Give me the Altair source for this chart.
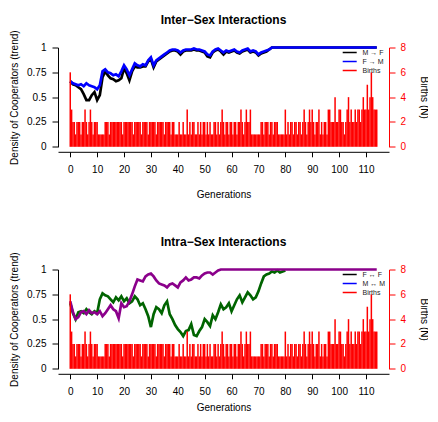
import altair as alt
import pandas as pd

FONT = "Liberation Sans"

# ---------------- data ----------------
gens_inter = list(range(0, 76)) + [114]
m_to_f = [0.66, 0.63, 0.62, 0.60, 0.58, 0.53, 0.47, 0.47, 0.52, 0.55,
          0.47, 0.52, 0.70, 0.76, 0.72, 0.69, 0.68, 0.66, 0.67, 0.69,
          0.79, 0.74, 0.67, 0.76, 0.81, 0.80, 0.80, 0.81, 0.81, 0.86,
          0.88, 0.80, 0.86, 0.88, 0.90, 0.92, 0.94, 0.96, 0.97, 0.97,
          0.96, 0.93, 0.96, 0.97, 0.97, 0.97, 0.98, 0.97, 0.97, 0.96,
          0.95, 0.91, 0.90, 0.95, 0.97, 0.98, 0.96, 0.93, 0.96, 0.95,
          0.96, 0.97, 0.95, 0.94, 0.96, 0.97, 0.98, 0.95, 0.96, 0.95,
          0.92, 0.94, 0.95, 0.96, 0.98, 1.00, 1.00]
f_to_m = [0.66, 0.64, 0.63, 0.62, 0.63, 0.61, 0.64, 0.62, 0.61, 0.60,
          0.58, 0.62, 0.76, 0.78, 0.75, 0.74, 0.72, 0.73, 0.71, 0.76,
          0.82, 0.78, 0.72, 0.78, 0.84, 0.82, 0.81, 0.83, 0.82, 0.87,
          0.90, 0.82, 0.87, 0.89, 0.91, 0.93, 0.95, 0.97, 0.98, 0.98,
          0.97, 0.95, 0.97, 0.98, 0.98, 0.98, 0.99, 0.98, 0.98, 0.97,
          0.96, 0.93, 0.92, 0.96, 0.98, 0.99, 0.97, 0.95, 0.97, 0.96,
          0.97, 0.98, 0.96, 0.95, 0.97, 0.98, 0.99, 0.96, 0.97, 0.96,
          0.93, 0.95, 0.96, 0.97, 0.98, 1.00, 1.00]

gens_ff = list(range(0, 81))
f_ff = [0.66, 0.56, 0.50, 0.57, 0.58, 0.56, 0.60, 0.57, 0.55, 0.58,
        0.56, 0.70, 0.76, 0.74, 0.73, 0.70, 0.67, 0.72, 0.69, 0.73,
        0.68, 0.71, 0.66, 0.68, 0.73, 0.70, 0.64, 0.66, 0.60, 0.53,
        0.42, 0.55, 0.62, 0.60, 0.56, 0.64, 0.68, 0.55, 0.50, 0.44,
        0.40, 0.37, 0.33, 0.38, 0.39, 0.45, 0.34, 0.33, 0.38, 0.42,
        0.50, 0.47, 0.43, 0.54, 0.50, 0.57, 0.65, 0.60, 0.62, 0.66,
        0.58, 0.64, 0.70, 0.74, 0.67, 0.72, 0.77, 0.74, 0.70, 0.72,
        0.78, 0.86, 0.93, 0.95, 0.96, 0.98, 0.97, 0.99, 0.97, 0.98,
        0.99]

gens_mm = list(range(0, 57)) + [114]
m_mm = [0.68, 0.57, 0.50, 0.52, 0.57, 0.58, 0.55, 0.59, 0.56, 0.57,
        0.55, 0.58, 0.53, 0.56, 0.60, 0.64, 0.60, 0.58, 0.51, 0.66,
        0.62, 0.63, 0.68, 0.75, 0.83, 0.90, 0.89, 0.88, 0.93, 0.95,
        0.96, 0.93, 0.89, 0.86, 0.85, 0.84, 0.82, 0.85, 0.86, 0.84,
        0.82, 0.87, 0.89, 0.92, 0.89, 0.90, 0.92, 0.92, 0.91, 0.94,
        0.96, 0.97, 0.97, 0.95, 0.97, 0.99, 1.00, 1.00]

# births (N), one value every half generation from 0 to 114
birth_step = 0.5
births = [6, 3, 2, 2, 1, 2, 2, 2, 1, 2, 2, 3, 2, 1, 2, 3, 2, 1, 2, 2,
          2, 1, 1, 1, 1, 1, 2, 2, 2, 1, 2, 2, 2, 2,
          2, 2, 2, 2, 2, 1, 2, 2, 2, 2, 2, 2, 2, 1, 2, 2, 2, 2, 2, 1,
          2, 2, 2, 2, 1, 2, 2, 2, 2, 2, 1, 2, 2, 2, 2, 2, 1, 2, 2, 2,
          2, 1, 2, 2,
          1, 1, 1, 2, 1, 1, 2, 1, 1, 3,
          1, 2, 1, 2, 2, 1, 1, 2, 1, 2, 1, 2, 2, 1, 2, 1, 2, 1, 1, 2,
          2, 1,
          2, 1, 2, 3, 2, 1, 2, 2, 1, 2, 2, 1, 2, 2, 1, 2, 2, 3, 2, 1,
          2, 3, 2, 2, 3, 1,
          1, 1, 1, 1, 1, 1,
          2, 2, 1, 2, 2, 2, 1, 2, 2, 1, 2, 2, 2, 1,
          1, 1, 1, 1, 3, 1,
          2, 1, 2, 2, 1, 2, 2, 1, 2, 2, 1, 2, 3, 2, 1, 2, 3, 2, 3, 2,
          1, 2, 2, 3,
          1, 2, 1, 2, 2, 1, 3, 3,
          2, 2, 2, 4, 2, 2, 3, 3, 2, 2, 1, 2, 3, 4, 2, 3, 2, 2, 3, 2,
          3, 3, 2, 3, 4, 3, 3, 5, 3, 4, 6, 4, 3, 3, 3]

x_ticks = [0, 10, 20, 30, 40, 50, 60, 70, 80, 90, 100, 110]
y_ticks = [0, 0.25, 0.5, 0.75, 1]
birth_ticks = [0, 2, 4, 6, 8]

W = 331
H = 99.3


def panel(title, names, colors, gens_list, vals_list, xtitle_y):
    x_scale = alt.Scale(domain=[-4.56, 118.56], nice=False, zero=False)
    x_axis = alt.Axis(values=x_ticks, title="Generations", offset=5, tickSize=5,
                      labelPadding=8, grid=False, labelFlush=False, labelOverlap=False,
                      titleY=xtitle_y, domainColor="black", tickColor="black",
                      labelColor="black", titleColor="black")
    y_scale = alt.Scale(domain=[0, 1], nice=False, zero=False)
    y_axis = alt.Axis(orient="left", values=y_ticks,
                      labelExpr="'' + datum.value",
                      title="Density of Cooperators (trend)", tickSize=6, labelPadding=6,
                      titleX=-39, titleY=H / 2, grid=False, domainColor="black",
                      tickColor="black", labelColor="black", titleColor="black")

    line_layers = []
    for name, col, g, v in zip(names, colors, gens_list, vals_list):
        df = pd.DataFrame({"gen": g, "value": v})
        line_layers.append(
            alt.Chart(df).mark_line(strokeWidth=2.7, color=col).encode(
                x=alt.X("gen:Q", scale=x_scale, axis=x_axis),
                y=alt.Y("value:Q", scale=y_scale, axis=y_axis),
            )
        )
    lines = alt.layer(*line_layers)

    bdf = pd.DataFrame({"gen": [i * birth_step for i in range(len(births))], "n": births})
    bars = alt.Chart(bdf).mark_rule(strokeWidth=1.5, color="#FF0000").encode(
        x=alt.X("gen:Q", scale=x_scale, axis=x_axis),
        y=alt.Y("n:Q", scale=alt.Scale(domain=[0, 8], nice=False, zero=False),
                axis=alt.Axis(orient="right", values=birth_ticks, title="Births (N)",
                              tickSize=6, labelPadding=5, grid=False,
                              domainColor="#FF0000", tickColor="#FF0000",
                              labelColor="#FF0000", titleColor="black",
                              titleX=29, titleY=H / 2)),
        y2=alt.datum(0),
    )

    legend_labels = names + ["Births"]
    legend_colors = colors + ["#FF0000"]
    ldf = pd.DataFrame({"label": legend_labels})
    ly = alt.Y("label:N", scale=alt.Scale(type="point", domain=legend_labels,
                                          range=[5, 23], padding=0), axis=None)
    lc = alt.Color("label:N", scale=alt.Scale(domain=legend_labels, range=legend_colors),
                   legend=None)
    leg_lines = alt.Chart(ldf).mark_rule(strokeWidth=1.5).encode(
        x=alt.value(284.7), x2=alt.value(298.7), y=ly, color=lc)
    leg_text = alt.Chart(ldf).mark_text(align="left", baseline="middle", fontSize=7,
                                        font=FONT, color="#222222").encode(
        x=alt.value(304.5), y=ly, text="label:N")
    legend = alt.layer(leg_lines, leg_text)

    return alt.layer(lines, bars, legend).resolve_scale(y="independent").properties(
        width=W, height=H,
        title=alt.TitleParams(text=title, fontSize=12, fontWeight="bold", font=FONT,
                              anchor="middle", frame="group", offset=3, color="black"),
    )


top = panel("Inter\u2212Sex Interactions", ["M \u2192 F", "F \u2192 M"], ["#000000", "#0000FF"],
            [gens_inter, gens_inter], [m_to_f, f_to_m], 38)
bottom = panel("Intra\u2212Sex Interactions", ["F \u2194 F", "M \u2194 M"], ["#006400", "#8B008B"],
               [gens_ff, gens_mm], [f_ff, m_mm], 29)

chart = alt.vconcat(top, bottom, spacing=35).properties(
    padding={"left": 0, "top": 5.5, "right": 0, "bottom": 0},
    background="white",
).configure_view(stroke=None).configure_axis(
    labelFont=FONT, titleFont=FONT, labelFontSize=10, titleFontSize=10,
    titleFontWeight="normal", domainWidth=1, tickWidth=1
)

chart.save("out.html", embed_options={"renderer": "svg", "actions": False})
